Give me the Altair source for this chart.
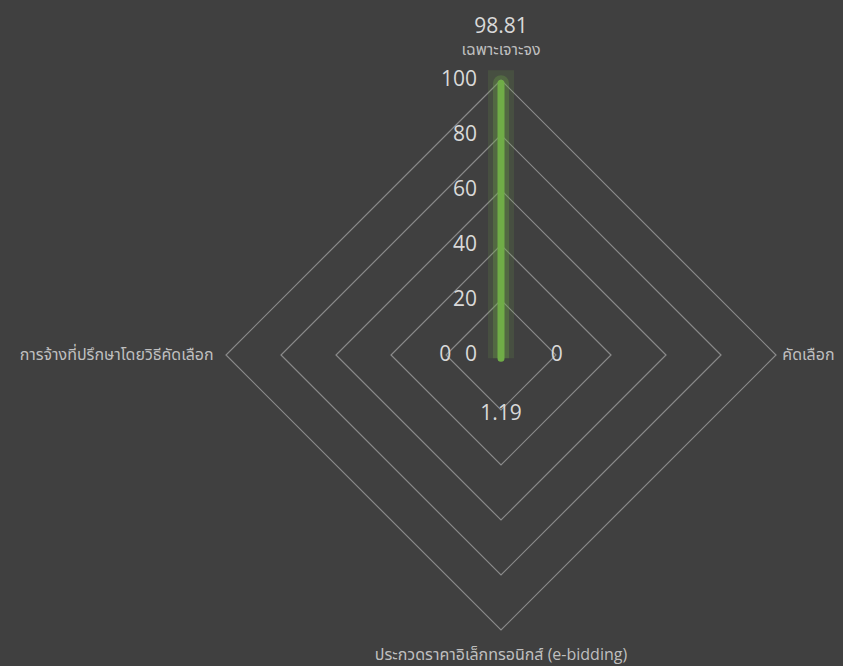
import altair as alt
import pandas as pd

# ---------------- data ----------------
categories = [
    "เฉพาะเจาะจง",
    "คัดเลือก",
    "ประกวดราคาอิเล็กทรอนิกส์ (e-bidding)",
    "การจ้างที่ปรึกษาโดยวิธีคัดเลือก",
]
values = [98.81, 0, 1.19, 0]
value_labels = ["98.81", "0", "1.19", "0"]
grid_levels = [20, 40, 60, 80, 100]
tick_values = [0, 20, 40, 60, 80, 100]
tick_labels = ["0", "20", "40", "60", "80", "100"]

# ---------------- layout ----------------
BG = "#404040"
W, H = 835, 658
CX, CY = 493, 347          # centre of radar in chart pixels
PX = 2.75                  # pixels per unit
xdom = [-CX / PX, (W - CX) / PX]
ydom = [-(H - CY) / PX, CY / PX]
FONT = "Open Sans, Noto Sans, Noto Sans Thai, Tahoma, sans-serif"

n = len(categories)
series = pd.DataFrame(
    [{"order": i, "angle": 360.0 * (i % n) / n, "value": values[i % n]} for i in range(n + 1)]
)
points = pd.DataFrame(
    [{"angle": 360.0 * i / n, "value": values[i], "label": value_labels[i], "cat": categories[i]}
     for i in range(n)]
)
grid = pd.DataFrame(
    [{"level": lv, "order": i, "angle": 360.0 * (i % n) / n}
     for lv in grid_levels for i in range(n + 1)]
)
ticks = pd.DataFrame({"tick": tick_values, "tlabel": tick_labels})

xs = alt.Scale(domain=xdom, nice=False, zero=False)
ys = alt.Scale(domain=ydom, nice=False, zero=False)

RAD = "datum.angle*PI/180"


def X(field="x"):
    return alt.X(f"{field}:Q", scale=xs, axis=None)


def Y(field="y"):
    return alt.Y(f"{field}:Q", scale=ys, axis=None)


grid_layer = alt.Chart(grid).transform_calculate(
    x=f"datum.level*sin({RAD})", y=f"datum.level*cos({RAD})"
).mark_line(color="#8a8a8a", strokeWidth=1.2).encode(
    x=X(), y=Y(), detail="level:N", order="order:Q"
)

series_base = alt.Chart(series).transform_calculate(
    x=f"datum.value*sin({RAD})", y=f"datum.value*cos({RAD})"
)
glow1 = series_base.mark_line(color="#70AD47", strokeWidth=26, opacity=0.14,
                              strokeCap="square", strokeJoin="miter").encode(
    x=X(), y=Y(), order="order:Q")
glow2 = series_base.mark_line(color="#70AD47", strokeWidth=16, opacity=0.28,
                              strokeCap="round").encode(
    x=X(), y=Y(), order="order:Q")
line = series_base.mark_line(color="#70AD47", strokeWidth=7,
                             strokeCap="round", strokeJoin="round").encode(
    x=X(), y=Y(), order="order:Q")

value_text = alt.Chart(points).transform_calculate(
    r="datum.value + 20.3",
).transform_calculate(
    x=f"datum.r*sin({RAD})", y=f"datum.r*cos({RAD})"
).mark_text(font=FONT, fontSize=21, color="#d9d9d9", align="center", baseline="middle").encode(
    x=X(), y=Y(), text="label:N"
)

cat_base = alt.Chart(points).transform_calculate(
    c=f"cos({RAD})", s=f"sin({RAD})"
).transform_calculate(
    r="datum.s > 0.5 ? 102.3 : datum.s < -0.5 ? 104.5 : (datum.c > 0 ? 111 : 109)"
).transform_calculate(
    x="datum.r*datum.s", y="datum.r*datum.c"
)
CAT_STYLE = dict(font=FONT, fontSize=16, color="#bfbfbf", baseline="middle")
cat_center = cat_base.transform_filter("abs(datum.s) < 0.5").mark_text(
    align="center", **CAT_STYLE
).encode(x=X(), y=Y(), text="cat:N")
cat_left = cat_base.transform_filter("datum.s >= 0.5").mark_text(
    align="left", **CAT_STYLE
).encode(x=X(), y=Y(), text="cat:N")
cat_right = cat_base.transform_filter("datum.s <= -0.5").mark_text(
    align="right", **CAT_STYLE
).encode(x=X(), y=Y(), text="cat:N")

tick_text = alt.Chart(ticks).transform_calculate(x="0").mark_text(
    font=FONT, fontSize=21, color="#d9d9d9", align="right", baseline="middle", dx=-24
).encode(x=X(), y=alt.Y("tick:Q", scale=ys, axis=None), text="tlabel:N")

chart = alt.layer(
    grid_layer, glow1, glow2, line, tick_text, value_text, cat_center, cat_left, cat_right
).properties(
    width=W, height=H, background=BG, padding=0,
    autosize=alt.AutoSizeParams(type="none"),
).configure_view(stroke=None)

TEMPLATE = """<!DOCTYPE html>
<html>
<head>
  <style>
    body { background: #404040; overflow: hidden; }
    #{{ output_div }}.vega-embed { display: block; width: auto; }
    #{{ output_div }}.vega-embed svg { flex-shrink: 0; max-width: none; }
  </style>
  <script type="text/javascript" src="{{ base_url }}/vega@{{ vega_version }}"></script>
  <script type="text/javascript" src="{{ base_url }}/vega-lite@{{ vegalite_version }}"></script>
  <script type="text/javascript" src="{{ base_url }}/vega-embed@{{ vegaembed_version }}"></script>
</head>
<body>
  <div id="{{ output_div }}"></div>
  <script>
    (function(vegaEmbed) {
      var spec = {{ spec }};
      var embedOpt = {{ embed_options }};
      vegaEmbed("#{{ output_div }}", spec, embedOpt).catch(console.error);
    })(vegaEmbed);
  </script>
</body>
</html>"""

try:
    import jinja2
    chart.save("out.html", embed_options={"renderer": "svg", "actions": False},
               template=jinja2.Template(TEMPLATE))
except Exception:
    chart.save("out.html", embed_options={"renderer": "svg", "actions": False})
